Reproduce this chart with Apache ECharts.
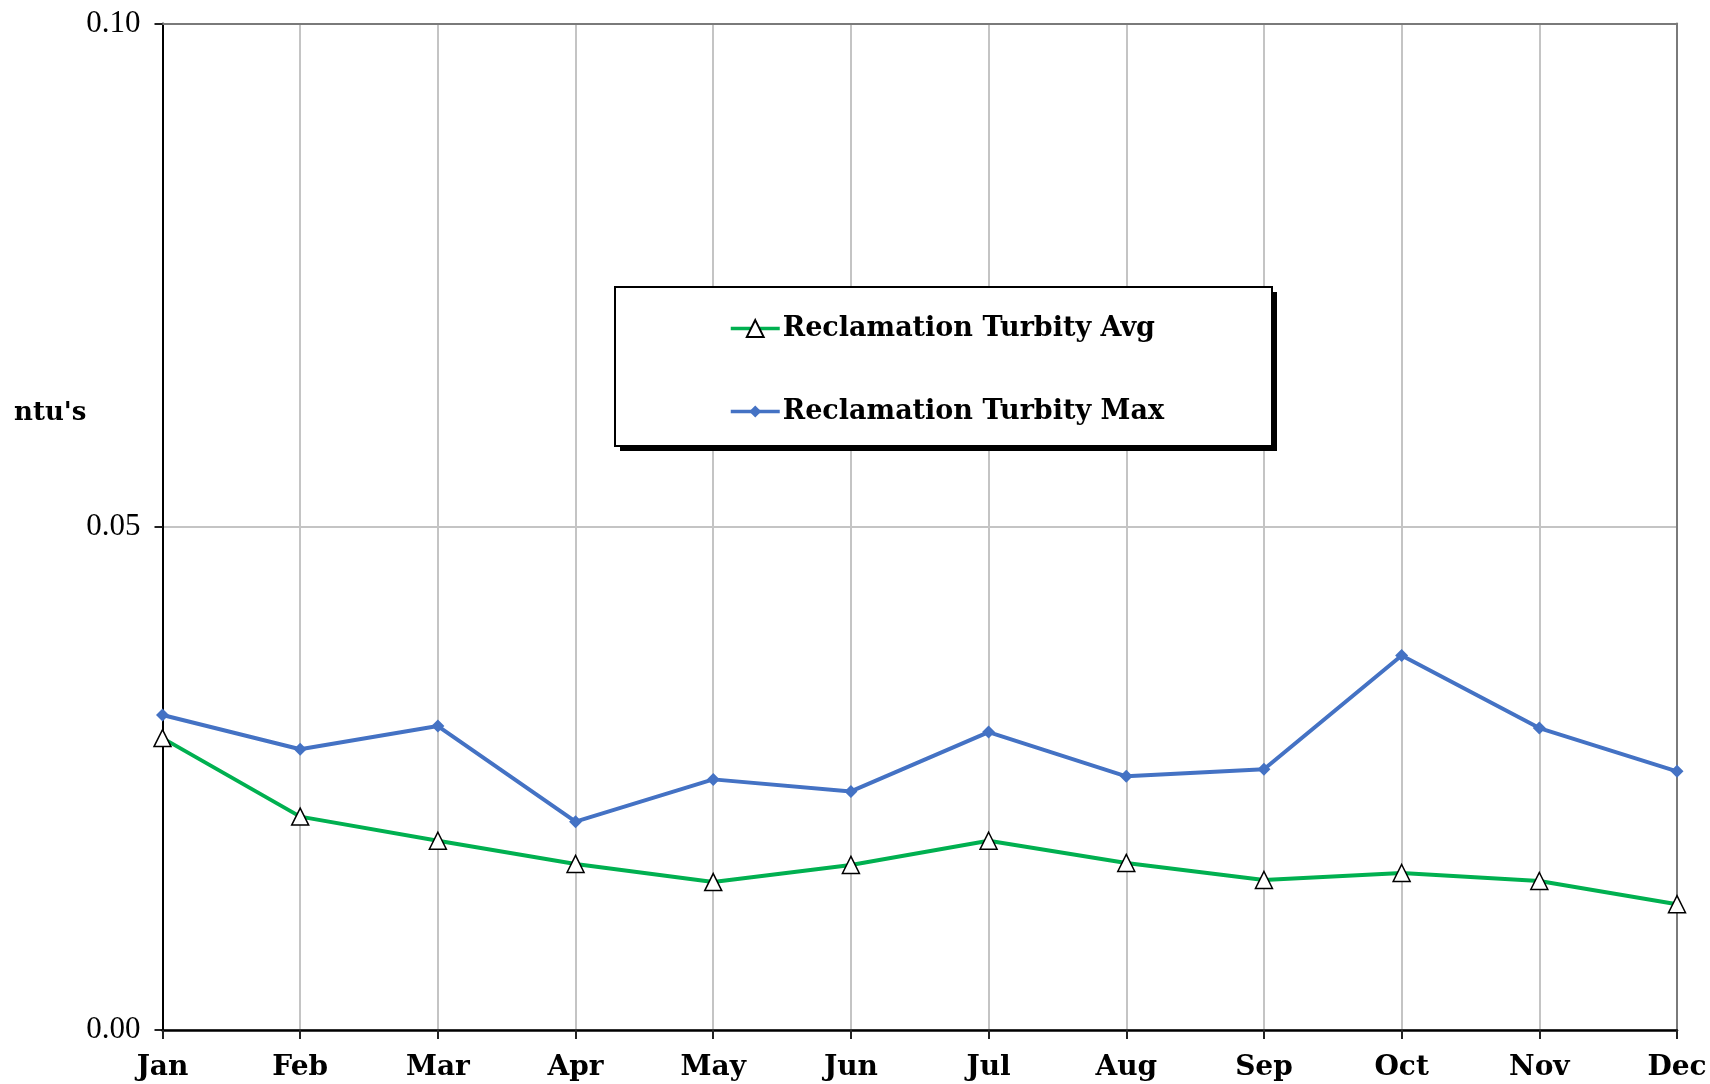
<!DOCTYPE html>
<html>
<head>
<meta charset="utf-8">
<script src="https://cdn.jsdelivr.net/npm/echarts@6/dist/echarts.min.js"></script>
<style>
  html, body { margin: 0; padding: 0; background: #fff; }
  #chart { width: 1710px; height: 1084px; }
</style>
</head>
<body>
<div id="chart"></div>
<script>
// months
var months = ['Jan', 'Feb', 'Mar', 'Apr', 'May', 'Jun', 'Jul', 'Aug', 'Sep', 'Oct', 'Nov', 'Dec'];
// turbidity, ntu's
var turbAvg = [0.0290, 0.0212, 0.0188, 0.0165, 0.0147, 0.0164, 0.0188, 0.0166, 0.0149, 0.0156, 0.0148, 0.0125];
var turbMax = [0.0313, 0.0279, 0.0302, 0.0207, 0.0249, 0.0237, 0.0296, 0.0252, 0.0259, 0.0372, 0.0300, 0.0257];
var yMin = 0, yMax = 0.10, yStep = 0.05;

var serifBold = 'DejaVu Serif';
var gridPos = { left: 162.5, right: 33, top: 23.5, bottom: 54, outerBoundsMode: 'none' };

// axes with nothing but a line (frame / gridlines)
function bareX(gi, pos, z) {
    return {
        type: 'category', gridIndex: gi, position: pos, data: months, boundaryGap: false, z: z,
        axisLine: { show: false }, axisTick: { show: false }, axisLabel: { show: false },
        splitLine: { show: false }
    };
}
function bareY(gi, pos, z) {
    return {
        type: 'value', gridIndex: gi, position: pos, min: yMin, max: yMax, interval: yStep, z: z,
        axisLine: { show: false }, axisTick: { show: false }, axisLabel: { show: false },
        splitLine: { show: false }
    };
}

var gx = bareX(0, 'bottom', 0);
gx.splitLine = { show: true, lineStyle: { color: '#c4c4c4', width: 2 } };
var gy = bareY(0, 'left', 0);
gy.splitLine = { show: true, lineStyle: { color: '#c4c4c4', width: 2 } };

var topX = bareX(1, 'top', 3);
topX.axisLine = { show: true, onZero: false, lineStyle: { color: '#7a7a7a', width: 2 } };
var rightY = bareY(1, 'right', 3);
rightY.axisLine = { show: true, onZero: false, lineStyle: { color: '#7a7a7a', width: 2 } };

var legendText = { fontFamily: serifBold, fontWeight: 'bold', fontSize: 27, lineHeight: 14, color: '#000', padding: [0, 0, 0, -2] };

var dom = document.getElementById('chart');
var myChart = echarts.init(dom);
var option = {
    backgroundColor: '#fff',
    animation: false,
    grid: [gridPos, gridPos],
    graphic: [{
        // legend shadow
        type: 'rect',
        z: 3,
        shape: { x: 620, y: 292, width: 657, height: 159 },
        style: { fill: '#000' }
    }, {
        type: 'rect',
        z: 3,
        shape: { x: 615, y: 287, width: 657, height: 159 },
        style: { fill: '#fff', stroke: '#000', lineWidth: 2 }
    }, {
        type: 'text',
        z: 3,
        left: 14,
        top: 400,
        style: {
            text: "ntu's",
            font: 'bold 26px "DejaVu Serif"',
            fill: '#000'
        }
    }],
    legend: [{
        z: 5, left: 729, top: 315, padding: 0,
        itemWidth: 49, itemHeight: 21,
        lineStyle: { width: 3.5 },
        data: ['Reclamation Turbity Avg'],
        textStyle: legendText
    }, {
        z: 5, left: 729, top: 398, padding: 0,
        itemWidth: 49, itemHeight: 15,
        lineStyle: { width: 3.5 },
        data: ['Reclamation Turbity Max'],
        textStyle: legendText
    }],
    xAxis: [gx, {
        type: 'category',
        gridIndex: 1,
        position: 'bottom',
        data: months,
        boundaryGap: false,
        z: 6,
        axisLine: { onZero: false, lineStyle: { color: '#000', width: 2.5 } },
        axisTick: { show: true, inside: false, length: 9, lineStyle: { color: '#222', width: 2 } },
        axisLabel: {
            margin: 24,
            fontFamily: serifBold,
            fontWeight: 'bold',
            fontSize: 28,
            color: '#000'
        },
        splitLine: { show: false }
    }, topX],
    yAxis: [gy, {
        type: 'value',
        gridIndex: 1,
        position: 'left',
        min: yMin,
        max: yMax,
        interval: yStep,
        z: 3,
        axisLine: { show: true, onZero: false, lineStyle: { color: '#000', width: 2 } },
        axisTick: { show: true, inside: false, length: 8, lineStyle: { color: '#222', width: 2 } },
        axisLabel: {
            margin: 22,
            fontFamily: 'Liberation Serif',
            fontSize: 31,
            color: '#000',
            formatter: function (v) { return v.toFixed(2); }
        },
        splitLine: { show: false }
    }, rightY],
    series: [{
        name: 'Reclamation Turbity Max',
        type: 'line',
        xAxisIndex: 1,
        yAxisIndex: 1,
        z: 4,
        data: turbMax,
        symbol: 'diamond',
        symbolSize: 13,
        showAllSymbol: true,
        lineStyle: { color: '#4472c4', width: 4 },
        itemStyle: { color: '#4472c4' }
    }, {
        name: 'Reclamation Turbity Avg',
        type: 'line',
        xAxisIndex: 1,
        yAxisIndex: 1,
        z: 4,
        data: turbAvg,
        symbol: 'triangle',
        symbolSize: 17,
        showAllSymbol: true,
        lineStyle: { color: '#00b050', width: 4 },
        itemStyle: { color: '#fff', borderColor: '#000', borderWidth: 1.5 }
    }]
};
myChart.setOption(option, true);
window.onresize = myChart.resize;
</script>
</body>
</html>
